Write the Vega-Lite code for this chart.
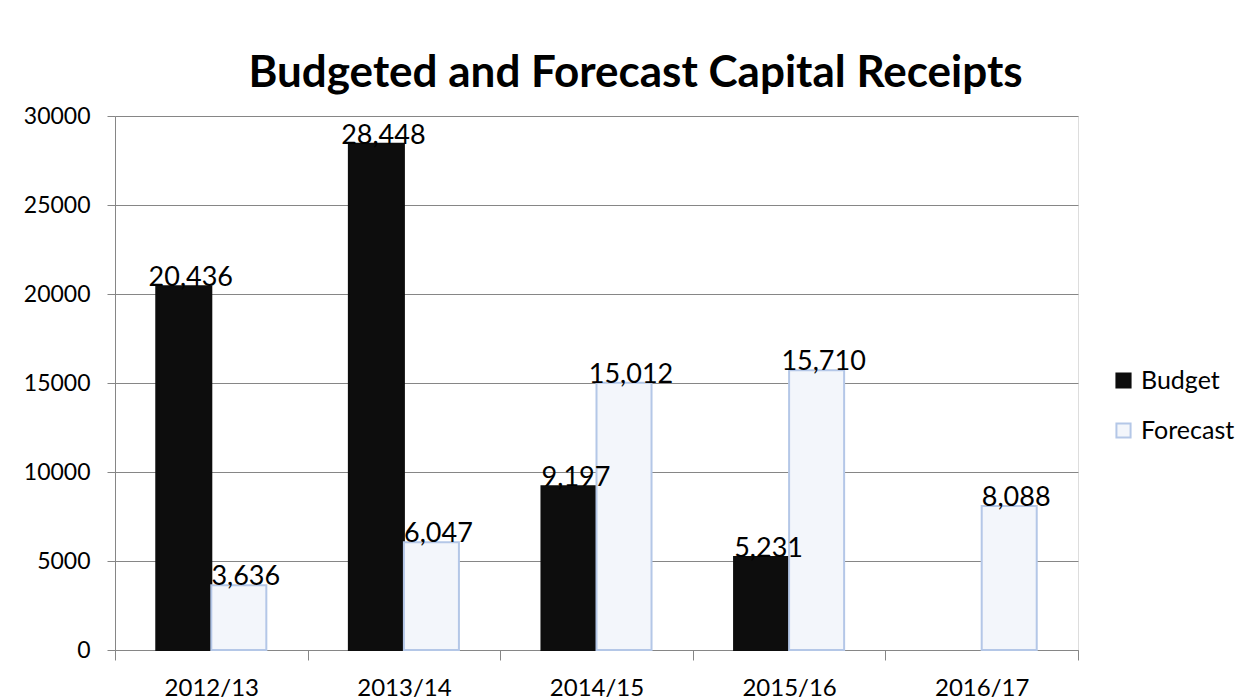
{
  "$schema": "https://vega.github.io/schema/vega-lite/v6.json",
  "autosize": {"type": "none"},
  "width": 963,
  "height": 534,
  "padding": {"left": 115, "top": 116, "right": 166, "bottom": 50},
  "background": "#ffffff",
  "title": {
    "text": "Budgeted and Forecast Capital Receipts",
    "font": "Lato",
    "fontSize": 44,
    "fontWeight": "bold",
    "color": "#000000",
    "anchor": "middle",
    "dx": 39,
    "offset": 9
  },
  "data": {
    "values": [
      {"year": "2012/13", "series": "Budget", "value": 20436},
      {"year": "2012/13", "series": "Forecast", "value": 3636},
      {"year": "2013/14", "series": "Budget", "value": 28448},
      {"year": "2013/14", "series": "Forecast", "value": 6047},
      {"year": "2014/15", "series": "Budget", "value": 9197},
      {"year": "2014/15", "series": "Forecast", "value": 15012},
      {"year": "2015/16", "series": "Budget", "value": 5231},
      {"year": "2015/16", "series": "Forecast", "value": 15710},
      {"year": "2016/17", "series": "Forecast", "value": 8088}
    ]
  },
  "encoding": {
    "x": {
      "field": "year",
      "type": "nominal",
      "sort": null,
      "scale": {"paddingInner": 0, "paddingOuter": 0},
      "axis": {
        "title": null,
        "labelAngle": 0,
        "labelFont": "Lato",
        "labelFontSize": 24,
        "labelColor": "#000000",
        "labelPadding": 16,
        "tickBand": "extent",
        "tickSize": 10,
        "tickColor": "#868686",
        "domainColor": "#868686",
        "grid": false
      }
    },
    "xOffset": {
      "field": "series",
      "type": "nominal",
      "scale": {"domain": ["Budget", "Forecast"], "paddingOuter": 0.75, "paddingInner": 0}
    },
    "y": {
      "field": "value",
      "type": "quantitative",
      "scale": {"domain": [0, 30000]},
      "axis": {
        "title": null,
        "values": [0, 5000, 10000, 15000, 20000, 25000, 30000],
        "format": "d",
        "labelFont": "Lato",
        "labelFontSize": 23,
        "labelColor": "#000000",
        "labelPadding": 17,
        "tickSize": 8,
        "tickColor": "#868686",
        "domainColor": "#868686",
        "grid": true,
        "gridColor": "#868686"
      }
    }
  },
  "layer": [
    {
      "mark": {"type": "bar", "strokeWidth": 2},
      "encoding": {
        "fill": {
          "field": "series",
          "type": "nominal",
          "scale": {"domain": ["Budget", "Forecast"], "range": ["#0d0d0d", "#f3f6fb"]},
          "legend": {
            "title": null,
            "orient": "none",
            "legendX": 996,
            "legendY": 252,
            "symbolType": "square",
            "symbolSize": 200,
            "symbolStrokeWidth": 2,
            "labelFont": "Lato",
            "labelFontSize": 25,
            "labelColor": "#000000",
            "rowPadding": 24,
            "labelOffset": 5
          }
        },
        "stroke": {
          "field": "series",
          "type": "nominal",
          "scale": {"domain": ["Budget", "Forecast"], "range": ["#0d0d0d", "#b4c7e7"]},
          "legend": null
        }
      }
    },
    {
      "mark": {
        "type": "text",
        "font": "Lato",
        "fontSize": 27,
        "color": "#000000",
        "baseline": "alphabetic",
        "dx": 7,
        "dy": 0
      },
      "encoding": {
        "text": {"field": "value", "type": "quantitative", "format": ","}
      }
    }
  ]
}
